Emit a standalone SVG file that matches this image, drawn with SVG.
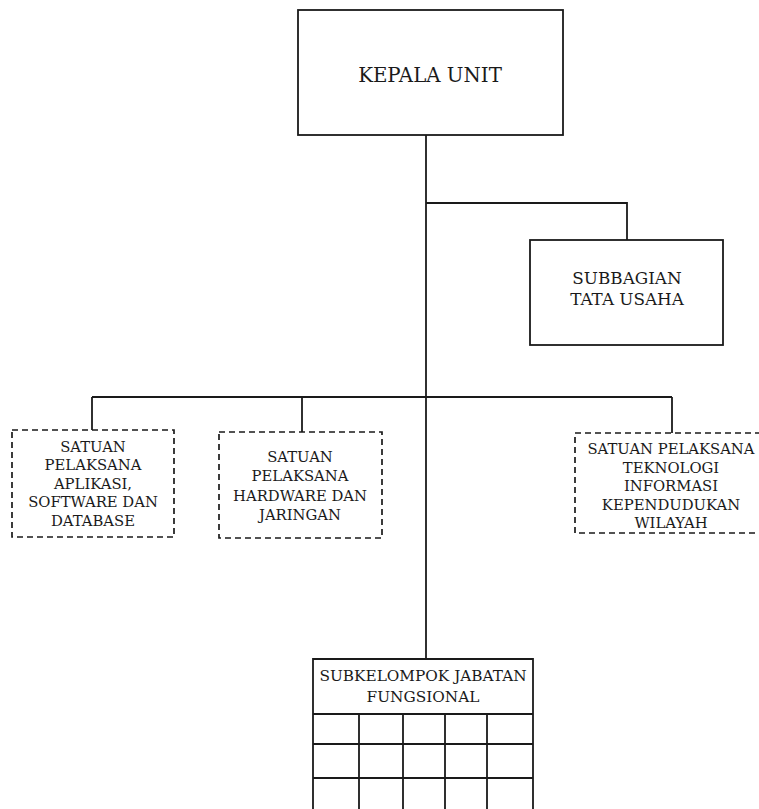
<svg xmlns="http://www.w3.org/2000/svg" width="759" height="809" viewBox="0 0 759 809">
<style>
.box{fill:#fff;stroke:#1a1a1a;stroke-width:1.8}
.dash{fill:#fff;stroke:#1a1a1a;stroke-width:1.7;stroke-dasharray:6 4}
.ln{fill:none;stroke:#1a1a1a;stroke-width:1.8}
text{font-family:"DejaVu Serif","Liberation Serif",serif;fill:#1a1a1a;text-anchor:middle}
.s{font-size:14.8px}
</style>
<rect width="759" height="809" fill="#fff"/>
<g id="connectors">
<path class="ln" d="M426 135 V659"/>
<path class="ln" d="M426 203 H627 V240"/>
<path class="ln" d="M92 397 H672"/>
<path class="ln" d="M92 397 V430"/>
<path class="ln" d="M302 397 V432"/>
<path class="ln" d="M672 397 V433"/>
</g>
<g id="kepala-unit">
<rect class="box" x="298" y="10" width="265" height="125"/>
<text x="430" y="82" font-size="19.8">KEPALA UNIT</text>
</g>
<g id="subbagian-tata-usaha">
<rect class="box" x="530" y="240" width="193" height="105"/>
<text x="627" y="284" font-size="16.8">SUBBAGIAN</text>
<text x="627" y="305" font-size="16.8">TATA USAHA</text>
</g>
<g id="satuan-aplikasi">
<rect class="dash" x="12" y="430" width="162" height="107"/>
<text class="s" x="93" y="452">SATUAN</text>
<text class="s" x="93" y="470">PELAKSANA</text>
<text class="s" x="93" y="489">APLIKASI,</text>
<text class="s" x="93" y="507">SOFTWARE DAN</text>
<text class="s" x="93" y="526">DATABASE</text>
</g>
<g id="satuan-hardware">
<rect class="dash" x="219" y="432" width="163" height="106"/>
<text class="s" x="300" y="462">SATUAN</text>
<text class="s" x="300" y="481">PELAKSANA</text>
<text class="s" x="300" y="501">HARDWARE DAN</text>
<text class="s" x="300" y="520">JARINGAN</text>
</g>
<g id="satuan-tik-wilayah">
<rect class="dash" x="575" y="433" width="190" height="100"/>
<text class="s" x="671" y="454">SATUAN PELAKSANA</text>
<text class="s" x="671" y="473">TEKNOLOGI</text>
<text class="s" x="671" y="491">INFORMASI</text>
<text class="s" x="671" y="510">KEPENDUDUKAN</text>
<text class="s" x="671" y="528">WILAYAH</text>
</g>
<g id="subkelompok-jabatan-fungsional">
<path class="ln" d="M313 809 V659 H533 V809"/>
<path class="ln" d="M313 714 H533 M313 744 H533 M313 778 H533 M359 714 V809 M403 714 V809 M445 714 V809 M487 714 V809"/>
<text x="423" y="681" font-size="15.3">SUBKELOMPOK JABATAN</text>
<text x="423" y="702" font-size="15.3">FUNGSIONAL</text>
</g>
</svg>
